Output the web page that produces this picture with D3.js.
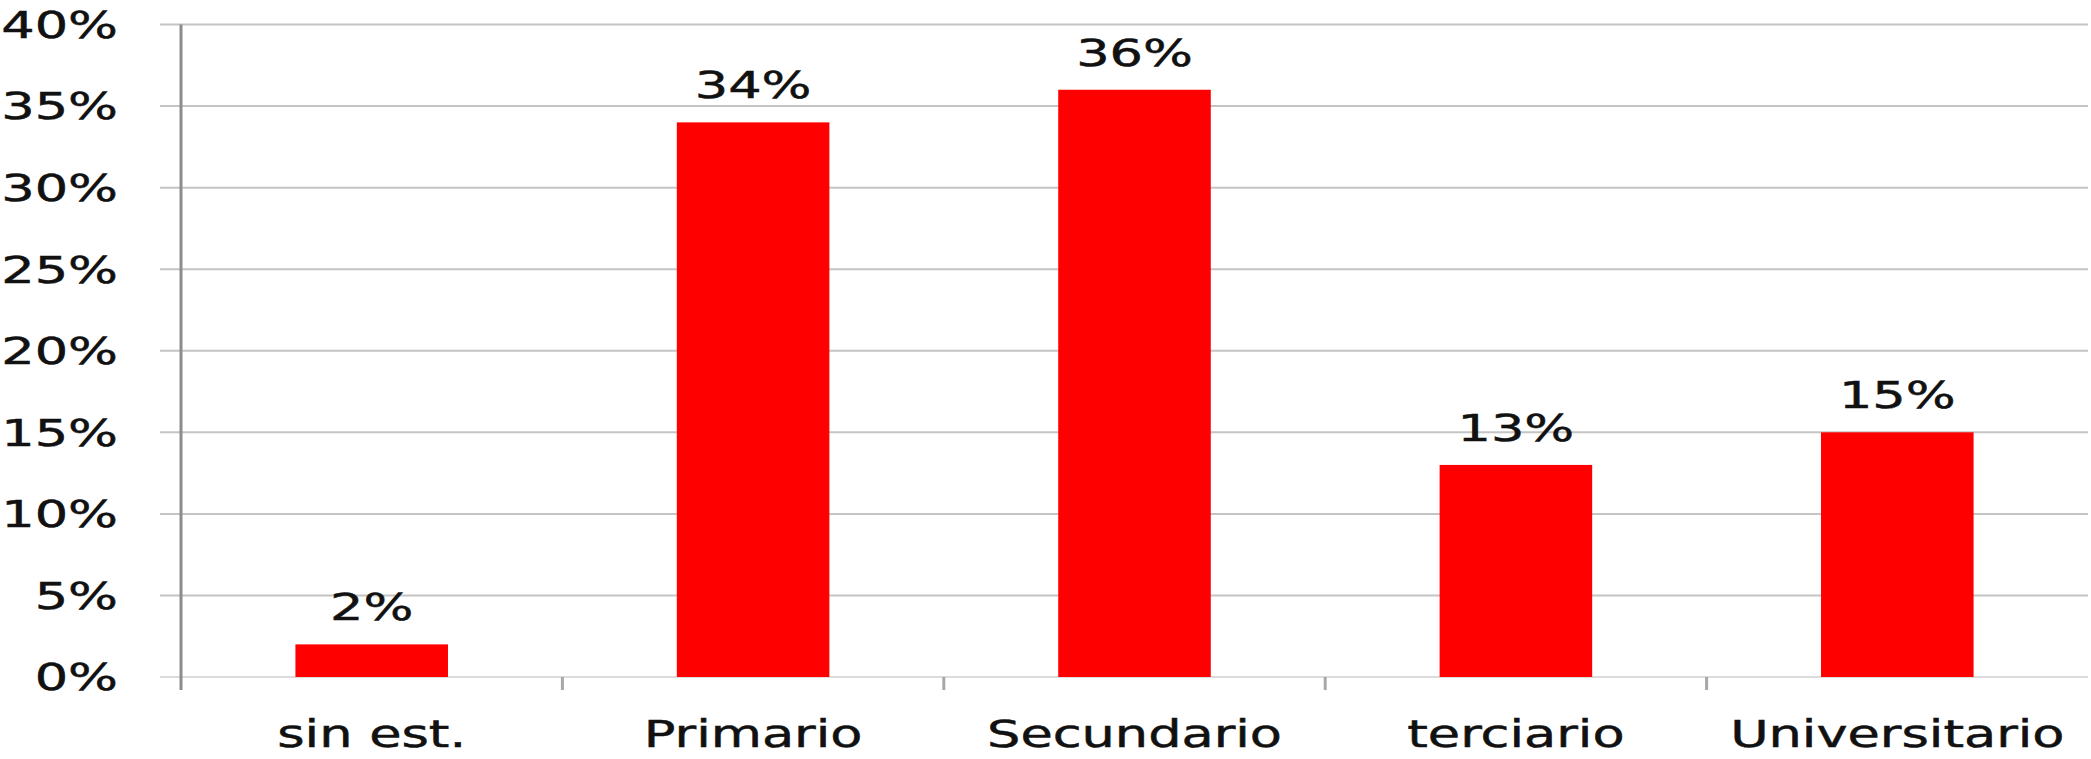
<!DOCTYPE html>
<html>
<head>
<meta charset="utf-8">
<script src="https://cdn.jsdelivr.net/npm/d3@7/dist/d3.min.js"></script>
<style>
  html, body { margin: 0; padding: 0; background: #fff; }
  svg { display: block; }
  text { font-family: "DejaVu Sans", Verdana, sans-serif; fill: #111; stroke: #111; stroke-width: 0.5px; }
</style>
</head>
<body>
<svg id="chart" width="2091" height="759"></svg>
<script>
const categories = ["sin est.", "Primario", "Secundario", "terciario", "Universitario"];
const values = [0.02, 0.34, 0.36, 0.13, 0.15];
const valueLabels = ["2%", "34%", "36%", "13%", "15%"];
const yTicks = [0, 0.05, 0.10, 0.15, 0.20, 0.25, 0.30, 0.35, 0.40];
const yTickLabels = ["0%", "5%", "10%", "15%", "20%", "25%", "30%", "35%", "40%"];

const plotLeft = 181, plotRight = 2088, plotTop = 24.5, plotBottom = 677;
const stretch = 1.42;

const svg = d3.select("#chart");

const x = d3.scaleBand().domain(categories).range([plotLeft, plotRight]).padding(0);
const y = d3.scaleLinear().domain([0, 0.4]).range([plotBottom, plotTop]);

// gridlines
svg.append("g").selectAll("line").data(yTicks).join("line")
  .attr("x1", plotLeft - 21).attr("x2", plotRight)
  .attr("y1", d => y(d)).attr("y2", d => y(d))
  .attr("stroke", d => d === 0 ? "#dcdcdc" : "#c4c4c4")
  .attr("stroke-width", 2);

// category boundary ticks below baseline
const bounds = categories.slice(1).map(c => x(c));
svg.append("g").selectAll("line").data(bounds).join("line")
  .attr("x1", d => d).attr("x2", d => d)
  .attr("y1", plotBottom).attr("y2", plotBottom + 13)
  .attr("stroke", "#a8a8a8").attr("stroke-width", 3);

// y axis line
svg.append("line")
  .attr("x1", plotLeft).attr("x2", plotLeft)
  .attr("y1", plotTop).attr("y2", plotBottom + 13)
  .attr("stroke", "#8c8c8c").attr("stroke-width", 3);

// bars
const bw = x.bandwidth();
svg.append("g").selectAll("rect").data(values).join("rect")
  .attr("x", (d, i) => x(categories[i]) + bw * 0.3)
  .attr("width", bw * 0.4)
  .attr("y", d => y(d))
  .attr("height", d => y(0) - y(d))
  .attr("fill", "#ff0000");

// y tick labels
svg.append("g").selectAll("text").data(yTicks).join("text")
  .attr("transform", d => `translate(118,${y(d)}) scale(${stretch},1)`)
  .attr("text-anchor", "end")
  .attr("dy", "0.36em")
  .style("font-size", "37px")
  .text((d, i) => yTickLabels[i]);

// value labels
svg.append("g").selectAll("text").data(values).join("text")
  .attr("transform", (d, i) => `translate(${x(categories[i]) + bw / 2},${y(d) - 24}) scale(${stretch},1)`)
  .attr("text-anchor", "middle")
  .style("font-size", "37px")
  .text((d, i) => valueLabels[i]);

// category labels
svg.append("g").selectAll("text").data(categories).join("text")
  .attr("transform", d => `translate(${x(d) + bw / 2},747) scale(${stretch},1)`)
  .attr("text-anchor", "middle")
  .style("font-size", "37px")
  .text(d => d);
</script>
</body>
</html>
